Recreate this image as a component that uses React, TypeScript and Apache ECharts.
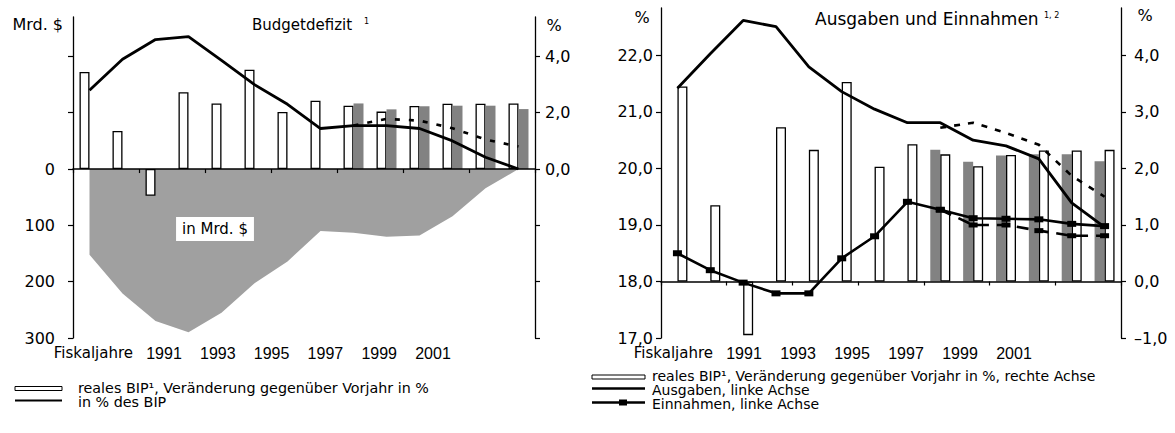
import React, { useEffect, useRef } from 'react';
import * as echarts from 'echarts';

// ---------- data ----------
const years = ['1989', '1990', '1991', '1992', '1993', '1994', '1995', '1996', '1997', '1998', '1999', '2000', '2001', '2002'];
const yearTickLabels = ['1991', '1993', '1995', '1997', '1999', '2001'];

// reales BIP, Veränderung gegenüber Vorjahr in %
const gdpGrowth = [3.45, 1.35, -0.95, 2.73, 2.33, 3.53, 2.03, 2.43, 2.25, 2.04, 2.24, 2.32, 2.32, 2.33];
// second (shaded) bars, 1997-2002
const gdpGrowthAlt = [null, null, null, null, null, null, null, null, 2.33, 2.12, 2.23, 2.25, 2.25, 2.13];

// Budgetdefizit in Mrd. $
const deficitBn = [152, 221, 270, 290, 255, 203, 164, 110, 113, 120, 118, 84, 34, 0];
// Budgetdefizit in % des BIP
const deficitPct = [2.8, 3.9, 4.6, 4.7, 3.86, 3.0, 2.3, 1.44, 1.54, 1.54, 1.44, 1.0, 0.42, 0.0];
const deficitPctAlt = [null, null, null, null, null, null, null, null, 1.55, 1.78, 1.72, 1.45, 1.05, 0.8];

// Ausgaben / Einnahmen in % des BIP
const outlays = [21.42, 22.03, 22.62, 22.51, 21.8, 21.36, 21.05, 20.81, 20.81, 20.5, 20.4, 20.17, 19.39, 18.96];
const outlaysAlt = [null, null, null, null, null, null, null, null, 20.72, 20.81, 20.63, 20.42, 19.87, 19.5];
const receipts = [18.5, 18.2, 17.98, 17.79, 17.79, 18.41, 18.8, 19.41, 19.27, 19.12, 19.11, 19.1, 19.02, 18.98];
const receiptsAlt = [null, null, null, null, null, null, null, null, 19.27, 19.0, 19.0, 18.9, 18.81, 18.81];

// axis ticks
const mrdTicks = [-200, -100, 0, 100, 200, 300];
const mrdLabels = [0, 100, 200, 300];
const pctTicksLeftChart = [-6, -4, -2, 0, 2, 4];
const pctLabelsLeftChart = [0, 2, 4];
const shareTicks = [17, 18, 19, 20, 21, 22];
const growthTicks = [-1, 0, 1, 2, 3, 4];

const GDP_LEFT = 'reales BIP¹, Veränderung gegenüber Vorjahr in %';
const GDP_RIGHT = 'reales BIP¹, Veränderung gegenüber Vorjahr in %, rechte Achse';
const PCT_LEFT = 'in % des BIP';
const OUT = 'Ausgaben, linke Achse';
const REC = 'Einnahmen, linke Achse';

const FONT = "'DejaVu Sans', 'Liberation Sans', sans-serif";
const NARROW = "'Liberation Sans Narrow', 'Liberation Sans', sans-serif";
const BLACK = '#000';
const SHADE = '#828282';
const AREA = '#a0a0a0';

const fmt = (v: number) => (v < 0 ? '–' : '') + Math.abs(v).toFixed(1).replace('.', ',');

const axisLineStyle = { color: BLACK, width: 1.3 };

function valueAxis(grid: number, pos: string, min: number, max: number, ticks: number[], labels: number[], margin: number, formatter: any, inverse = false) {
  return {
    gridIndex: grid,
    type: 'value',
    position: pos,
    inverse,
    min,
    max,
    axisLine: { show: true, onZero: false, lineStyle: axisLineStyle },
    axisTick: { show: true, length: 5, customValues: ticks, lineStyle: { color: BLACK, width: 1.2 } },
    axisLabel: { customValues: labels, margin, fontSize: 16, color: BLACK, fontFamily: FONT, formatter },
    splitLine: { show: false },
  };
}

function catAxis(grid: number) {
  return {
    gridIndex: grid,
    type: 'category',
    data: years,
    z: 10,
    axisLine: { onZero: true, lineStyle: { color: BLACK, width: 1.5 } },
    axisTick: { show: true, length: 4, lineStyle: { color: BLACK, width: 1.2 } },
    axisLabel: { show: false },
    splitLine: { show: false },
  };
}

function labelAxis(grid: number) {
  return {
    gridIndex: grid,
    type: 'category',
    data: yearTickLabels,
    boundaryGap: false,
    axisLine: { show: false },
    axisTick: { show: false },
    axisLabel: { interval: 0, margin: 0, verticalAlign: 'middle', fontSize: 16, fontFamily: NARROW, color: BLACK },
    name: 'Fiskaljahre',
    nameLocation: 'start',
    nameGap: 31,
    nameTextStyle: { fontSize: 15, fontFamily: FONT, color: BLACK },
  };
}

function txt(text: string, x: number, y: number, size: number, align = 'left', extra: any = {}) {
  return {
    type: 'text',
    x,
    y,
    z: 100,
    style: { text, fill: BLACK, fontSize: size, fontFamily: FONT, align, verticalAlign: 'middle', ...extra },
  };
}

export default function App() {
  const ref = useRef<HTMLDivElement>(null);
  useEffect(() => {
    document.body.style.margin = '0';
    const chart = echarts.init(ref.current!, null, { renderer: 'svg' });
    const option: any = {
      animation: false,
      backgroundColor: '#fff',
      textStyle: { fontFamily: FONT, color: BLACK },
      grid: [
        { left: 73, top: 17, width: 462, height: 321 },
        { left: 164, top: 352, width: 269, height: 1 },
        { left: 661, top: 8, width: 460, height: 330 },
        { left: 744, top: 352, width: 270, height: 1 },
      ],
      xAxis: [catAxis(0), labelAxis(1), catAxis(2), labelAxis(3)],
      yAxis: [
        valueAxis(0, 'left', -270, 300, mrdTicks, mrdLabels, 18, (v: number) => String(v), true),
        valueAxis(0, 'right', -6, 5.4, pctTicksLeftChart, pctLabelsLeftChart, 10, fmt),
        { gridIndex: 1, type: 'value', show: false },
        valueAxis(2, 'left', 17, 22.84, shareTicks, shareTicks, 8, fmt),
        valueAxis(2, 'right', -1, 4.84, growthTicks, growthTicks, 13, fmt),
        { gridIndex: 3, type: 'value', show: false },
      ],
      series: [
        // ---- left chart ----
        {
          name: 'Budgetdefizit in Mrd. $', type: 'line', xAxisIndex: 0, yAxisIndex: 0, data: deficitBn,
          symbol: 'none', lineStyle: { width: 0 }, areaStyle: { color: AREA, opacity: 1 }, z: 1,
        },
        {
          name: GDP_LEFT, type: 'bar', xAxisIndex: 0, yAxisIndex: 1, data: gdpGrowth, barWidth: 10, barGap: '0%',
          itemStyle: { color: '#fff', borderColor: BLACK, borderWidth: 1.3 }, z: 2,
        },
        {
          name: 'reales BIP (schattiert)', type: 'bar', xAxisIndex: 0, yAxisIndex: 1, data: gdpGrowthAlt, barWidth: 10, barGap: '0%',
          itemStyle: { color: SHADE }, z: 2,
        },
        {
          name: PCT_LEFT, type: 'line', xAxisIndex: 0, yAxisIndex: 1, data: deficitPct, symbol: 'none',
          lineStyle: { color: BLACK, width: 2.8 }, z: 3,
        },
        {
          name: 'in % des BIP (gestrichelt)', type: 'line', xAxisIndex: 0, yAxisIndex: 1, data: deficitPctAlt, symbol: 'none',
          lineStyle: { color: BLACK, width: 2.6, type: [5, 9] }, z: 3,
        },
        // ---- right chart ----
        {
          name: 'reales BIP (schattiert) ', type: 'bar', xAxisIndex: 2, yAxisIndex: 4, data: gdpGrowthAlt, barWidth: 10, barGap: '0%',
          itemStyle: { color: SHADE }, z: 2,
        },
        {
          name: GDP_RIGHT, type: 'bar', xAxisIndex: 2, yAxisIndex: 4, data: gdpGrowth, barWidth: 10, barGap: '0%',
          itemStyle: { color: '#fff', borderColor: BLACK, borderWidth: 1.3 }, z: 2,
        },
        {
          name: OUT, type: 'line', xAxisIndex: 2, yAxisIndex: 3, data: outlays, symbol: 'none',
          lineStyle: { color: BLACK, width: 2.8 }, z: 3,
        },
        {
          name: 'Ausgaben (gestrichelt)', type: 'line', xAxisIndex: 2, yAxisIndex: 3, data: outlaysAlt, symbol: 'none',
          lineStyle: { color: BLACK, width: 2.6, type: [6, 8] }, z: 3,
        },
        {
          name: REC, type: 'line', xAxisIndex: 2, yAxisIndex: 3, data: receipts, symbol: 'rect', symbolSize: [9, 6],
          itemStyle: { color: BLACK }, lineStyle: { color: BLACK, width: 2.6 }, z: 3,
        },
        {
          name: 'Einnahmen (gestrichelt)', type: 'line', xAxisIndex: 2, yAxisIndex: 3, data: receiptsAlt, symbol: 'rect', symbolSize: [9, 5],
          itemStyle: { color: BLACK }, lineStyle: { color: BLACK, width: 2.6, type: [12, 8] }, z: 3,
        },
      ],
      graphic: [
        // titles and axis units
        txt('Budgetdefizit', 252, 25, 15),
        txt('1', 364, 21, 8),
        txt('Mrd. $', 63, 24, 16, 'right'),
        txt('%', 554, 25, 16, 'center'),
        txt('Ausgaben und Einnahmen', 815, 19, 17),
        txt('1, 2', 1044, 15, 8),
        txt('%', 642, 17, 16, 'center'),
        txt('%', 1145, 15, 16, 'center'),
        txt('in Mrd. $', 215, 229, 15, 'center', { backgroundColor: '#fff', padding: [5, 6, 4, 6] }),
        // left legend
        { type: 'rect', z: 100, shape: { x: 15, y: 386.5, width: 47, height: 4 }, style: { fill: '#fff', stroke: BLACK, lineWidth: 1 } },
        txt(GDP_LEFT, 78, 388, 14.3),
        { type: 'line', z: 100, shape: { x1: 15, y1: 400.5, x2: 62, y2: 400.5 }, style: { stroke: BLACK, lineWidth: 2 } },
        txt(PCT_LEFT, 78, 402, 14.3),
        // right legend
        { type: 'rect', z: 100, shape: { x: 592, y: 375, width: 53, height: 4 }, style: { fill: '#fff', stroke: BLACK, lineWidth: 1 } },
        txt(GDP_RIGHT, 652, 376, 14),
        { type: 'line', z: 100, shape: { x1: 592, y1: 388.5, x2: 645, y2: 388.5 }, style: { stroke: BLACK, lineWidth: 2.5 } },
        txt(OUT, 652, 390, 14),
        { type: 'line', z: 100, shape: { x1: 592, y1: 402.5, x2: 645, y2: 402.5 }, style: { stroke: BLACK, lineWidth: 2.5 } },
        { type: 'rect', z: 101, shape: { x: 619, y: 399.5, width: 8, height: 6 }, style: { fill: BLACK } },
        txt(REC, 652, 404, 14),
      ],
    };
    chart.setOption(option);
    return () => chart.dispose();
  }, []);
  return <div ref={ref} style={{ width: 1175, height: 433 }} />;
}
